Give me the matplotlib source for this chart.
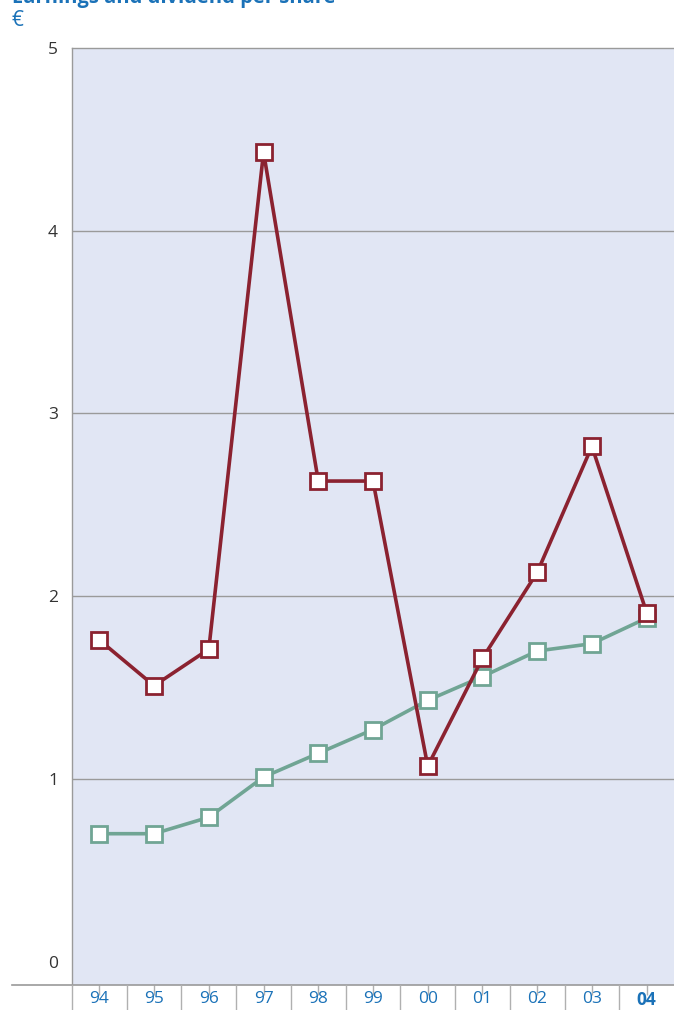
import matplotlib

matplotlib.use("Agg")

import matplotlib.pyplot as plt
from matplotlib.lines import Line2D

# Earnings and dividend per share, in euro
years = ["94", "95", "96", "97", "98", "99", "00", "01", "02", "03", "04"]
earnings = [1.76, 1.51, 1.71, 4.43, 2.63, 2.63, 1.07, 1.66, 2.13, 2.82, 1.91]
dividend = [0.70, 0.70, 0.79, 1.01, 1.14, 1.27, 1.43, 1.56, 1.70, 1.74, 1.88]
y_ticks = [0, 1, 2, 3, 4, 5]

BG = "#e1e6f4"
RED = "#8b2230"
GREEN = "#70a594"
BLUE = "#1b72b8"
GRID = "#9a9a9a"

plt.rcParams["font.family"] = ["Open Sans", "DejaVu Sans"]

W, H = 674, 1010
fig = plt.figure(figsize=(W / 100, H / 100), dpi=100)
ax = fig.add_axes([72 / W, (H - 985) / H, (W - 72) / W, (985 - 48) / H])
ax.set_facecolor(BG)

x = list(range(len(years)))
ax.plot(x, dividend, color=GREEN, lw=2.6, marker="s", ms=11,
        mfc="white", mec=GREEN, mew=2, zorder=3)
ax.plot(x, earnings, color=RED, lw=2.6, marker="s", ms=11,
        mfc="white", mec=RED, mew=2, zorder=4)

ax.set_xlim(-0.5, len(years) - 0.5)
ax.set_ylim(-0.128, 5)

for v in y_ticks[1:-1]:
    ax.axhline(v, color=GRID, lw=1, zorder=1)

ax.set_yticks(y_ticks)
ax.set_yticklabels([str(v) for v in y_ticks], fontsize=12.5, color="#333333")
ax.tick_params(axis="y", length=0, pad=10)

ax.set_xticks(x)
ax.set_xticklabels(years, fontsize=12.5, color=BLUE)
ax.get_xticklabels()[-1].set_fontweight("bold")
ax.tick_params(axis="x", length=7, width=1, color="#b0b0b0", pad=-2.5, direction="out")

for side in ["top", "left"]:
    ax.spines[side].set_color(GRID)
    ax.spines[side].set_linewidth(1)
ax.spines["right"].set_visible(False)
ax.spines["bottom"].set_visible(False)

# baseline running out to the left, and separators between the years
fig.add_artist(Line2D([12 / W, 1], [(H - 985) / H] * 2, color=GRID, lw=1.2))
for i in range(len(years)):
    px = 72 + i * (W - 72) / len(years)
    fig.add_artist(Line2D([px / W] * 2, [0, (H - 985) / H], color="#b0b0b0", lw=1))

fig.text(12 / W, 1 - 3 / H, "Earnings and dividend per share", color=BLUE,
         fontsize=14.5, fontweight="bold", ha="left", va="baseline")
fig.text(11 / W, 1 - 20 / H, "€", color=BLUE, fontsize=15, ha="left", va="center")

fig.savefig("out.png", dpi=100)
